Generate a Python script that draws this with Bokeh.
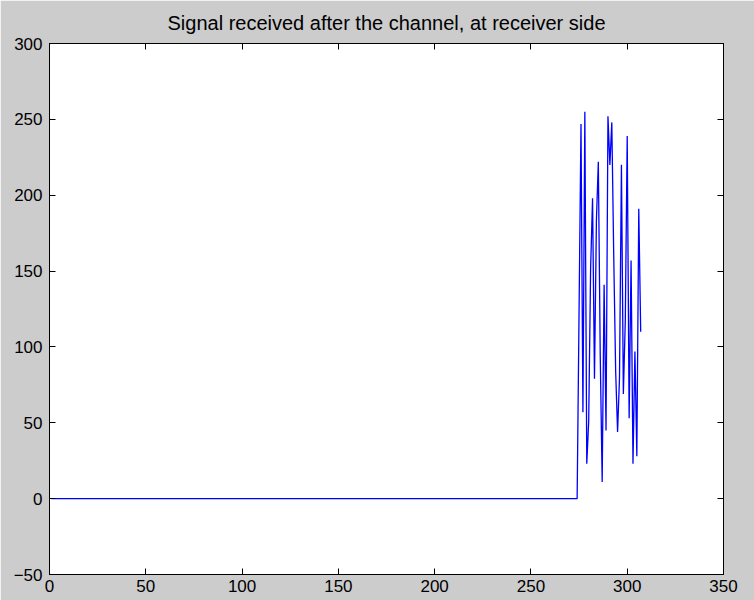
import numpy as np
from bokeh.plotting import figure
from bokeh.models import LinearAxis, Range1d, FixedTicker, ColumnDataSource
from bokeh.embed import file_html
from bokeh.resources import INLINE

title_text = "Signal received after the channel, at receiver side"
x_ticks = [0, 50, 100, 150, 200, 250, 300, 350]
y_ticks = [-50, 0, 50, 100, 150, 200, 250, 300]

# samples 1..274 are zero (channel delay), then the received samples
leading_zeros = [0] * 274
received_values = [124, 247, 57, 255, 23, 51, 152, 198, 79, 183, 222, 94, 11,
                   141, 45, 252, 220, 248, 160, 84, 44, 80, 220, 69, 117, 239,
                   53, 157, 23, 97, 28, 191, 110]

signal = leading_zeros + received_values
sample_index = list(range(1, len(signal) + 1))

src = ColumnDataSource(data=dict(n=sample_index, s=signal))

FONT = "Liberation Sans"

p = figure(width=754, height=600, output_backend="svg", toolbar_location=None,
           x_range=Range1d(0, 350), y_range=Range1d(-50, 300),
           min_border_left=49, min_border_right=31,
           min_border_top=42, min_border_bottom=26)

p.line("n", "s", source=src, line_color="#0000ff", line_width=1.3)

p.background_fill_color = "white"
p.border_fill_color = "#cccccc"
p.outline_line_color = "black"
p.outline_line_width = 1
p.grid.visible = False

p.title.text = title_text
p.title.align = "center"
p.title.text_font = FONT
p.title.text_font_size = "20px"
p.title.text_font_style = "normal"
p.title.text_color = "black"
p.title.standoff = 19


def style_axis(ax, ticks, labels=True, standoff=6):
    ax.ticker = FixedTicker(ticks=ticks)
    ax.major_tick_in = 6
    ax.major_tick_out = 0
    ax.minor_tick_in = 0
    ax.minor_tick_out = 0
    ax.axis_line_color = "black"
    ax.major_tick_line_color = "black"
    ax.major_label_text_font = FONT
    if labels:
        ax.major_label_text_color = "black"
        ax.major_label_text_font_size = "17px"
        ax.major_label_standoff = standoff
    else:
        ax.major_label_text_color = None
        ax.major_label_text_font_size = "1px"
        ax.major_label_standoff = 0


style_axis(p.xaxis[0], x_ticks, standoff=5)
style_axis(p.yaxis[0], y_ticks, standoff=7)

top_axis = LinearAxis()
style_axis(top_axis, x_ticks, labels=False)
p.add_layout(top_axis, "above")

right_axis = LinearAxis()
style_axis(right_axis, y_ticks, labels=False)
p.add_layout(right_axis, "right")

open("out.html", "w").write(file_html(p, INLINE))
